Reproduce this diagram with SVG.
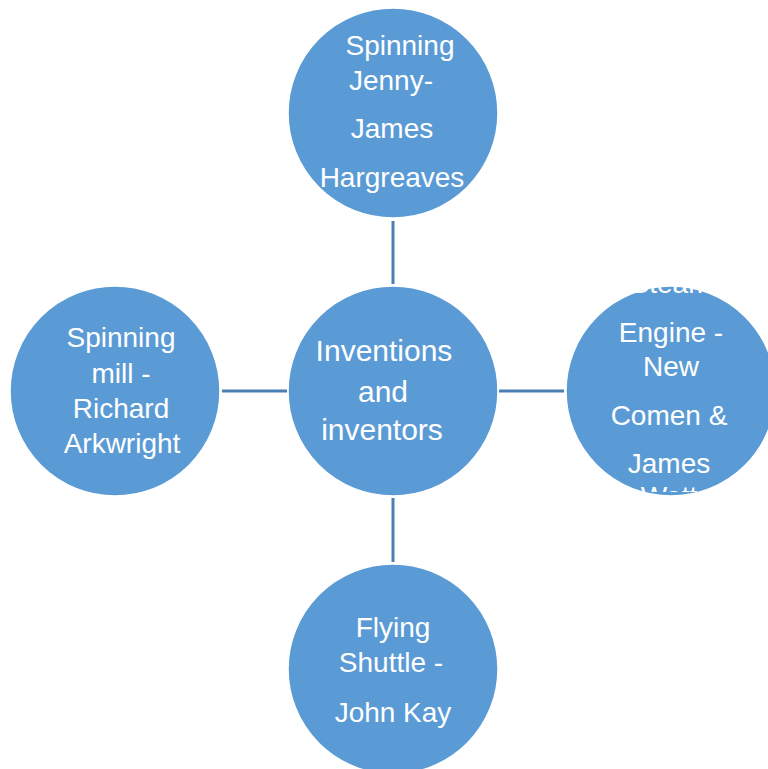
<svg xmlns="http://www.w3.org/2000/svg" width="768" height="769" viewBox="0 0 768 769">
<defs>
<style>
.node{fill:#5b9bd5;stroke:#ffffff;stroke-width:1.5}
.lbl{font-family:"Liberation Sans",Arial,sans-serif;font-size:28px;fill:#ffffff;text-anchor:middle}
.big{font-size:30px}
.conn{stroke:#4a7fb3;stroke-width:3;fill:none}
</style>
<clipPath id="clipR"><rect x="560" y="284" width="208" height="208"/></clipPath>
</defs>
<rect width="768" height="769" fill="#ffffff"/>
<g id="connectors">
<line class="conn" x1="393" y1="221" x2="393" y2="284"/>
<line class="conn" x1="393" y1="498" x2="393" y2="562"/>
<line class="conn" x1="222" y1="391" x2="287" y2="391"/>
<line class="conn" x1="499" y1="391" x2="564" y2="391"/>
</g>
<g id="center">
<circle class="node" cx="393" cy="391" r="105"/>
<text class="lbl big"><tspan x="384" y="361">Inventions</tspan><tspan x="383" y="402">and</tspan><tspan x="382" y="440">inventors</tspan></text>
</g>
<g id="top">
<circle class="node" cx="393" cy="113" r="105"/>
<text class="lbl"><tspan x="400" y="55">Spinning</tspan><tspan x="391" y="90">Jenny-</tspan><tspan x="392" y="138">James</tspan><tspan x="392" y="187">Hargreaves</tspan></text>
</g>
<g id="left">
<circle class="node" cx="115" cy="391" r="105"/>
<text class="lbl"><tspan x="121" y="347">Spinning</tspan><tspan x="121" y="383">mill -</tspan><tspan x="121" y="418">Richard</tspan><tspan x="122" y="453">Arkwright</tspan></text>
</g>
<g id="right">
<circle class="node" cx="671" cy="391" r="105"/>
<text class="lbl" clip-path="url(#clipR)"><tspan x="671" y="293">Steam</tspan><tspan x="671" y="342">Engine -</tspan><tspan x="671" y="376">New</tspan><tspan x="669" y="425">Comen &amp;</tspan><tspan x="669" y="473">James</tspan><tspan x="669" y="506">Watt</tspan></text>
</g>
<g id="bottom">
<circle class="node" cx="393" cy="669" r="105"/>
<text class="lbl"><tspan x="393" y="637">Flying</tspan><tspan x="391" y="672">Shuttle -</tspan><tspan x="393" y="722">John Kay</tspan></text>
</g>
</svg>
